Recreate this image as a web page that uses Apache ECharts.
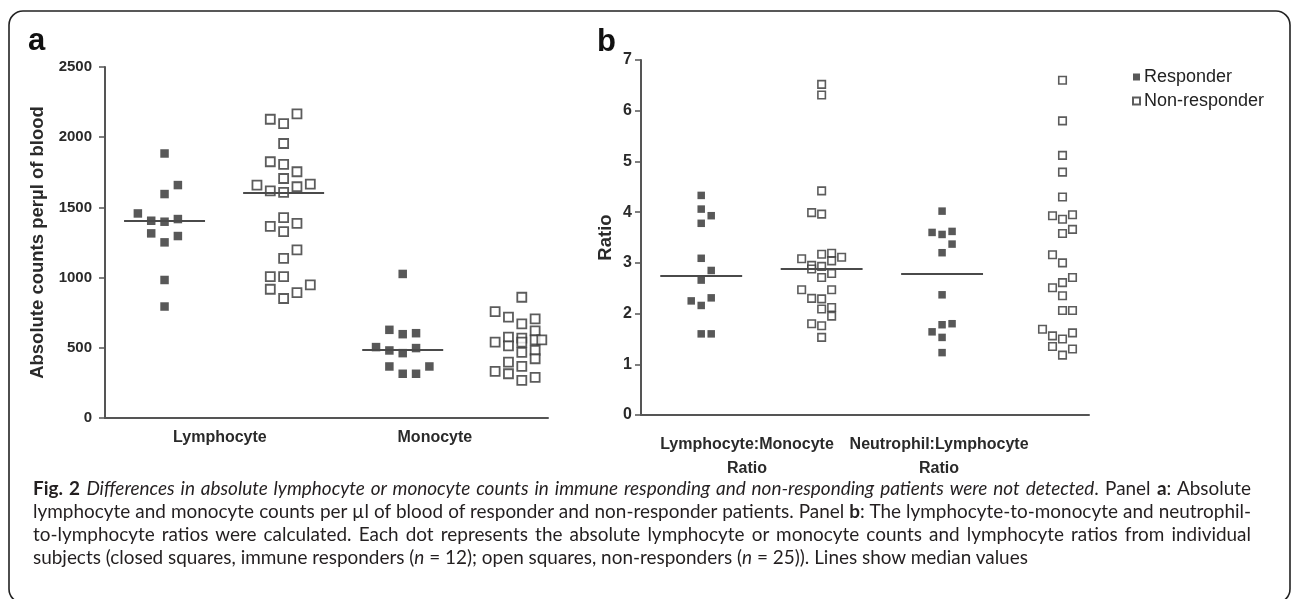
<!DOCTYPE html>
<html>
<head>
<meta charset="utf-8">
<script src="https://cdn.jsdelivr.net/npm/echarts@6/dist/echarts.min.js"></script>
<style>
html,body{margin:0;padding:0;background:#fff;}
#chart{position:absolute;left:0;top:0;width:1293px;height:599px;}
#cap{position:absolute;left:33px;top:476px;width:1218px;font-family:Lato,'Open Sans',sans-serif;font-size:18px;line-height:23px;color:#231f20;}
#cap div{white-space:nowrap;}
</style>
</head>
<body>
<div id="chart"></div>
<div id="cap">
<div class="j"><b>Fig. 2</b> <i>Differences in absolute lymphocyte or monocyte counts in immune responding and non-responding patients were not detected</i>. Panel <b>a</b>: Absolute</div>
<div class="j">lymphocyte and monocyte counts per µl of blood of responder and non-responder patients. Panel <b>b</b>: The lymphocyte-to-monocyte and neutrophil-</div>
<div class="j">to-lymphocyte ratios were calculated. Each dot represents the absolute lymphocyte or monocyte counts and lymphocyte ratios from individual</div>
<div id="last">subjects (closed squares, immune responders (<i>n</i> = 12); open squares, non-responders (<i>n</i> = 25)). Lines show median values</div>
</div>
<script>
// ---------- data ----------
const categoriesA = ['Lymphocyte', 'Monocyte'];
const categoriesB = ['Lymphocyte:Monocyte\nRatio', 'Neutrophil:Lymphocyte\nRatio'];
const seriesNames = ['Responder', 'Non-responder'];
const yTicksA = [0, 500, 1000, 1500, 2000, 2500];
const yTicksB = [0, 1, 2, 3, 4, 5, 6, 7];

// Panel a: absolute counts per µl
const lymResp = [1884, 1659, 1595, 1457, 1405, 1398, 1417, 1315, 1296, 1251, 983, 794];
const lymRespCol = [0, 1, 0, -2, -1, 0, 1, -1, 1, 0, 0, 0];
const lymNon = [2128, 2097, 2166, 1955, 1825, 1806, 1754, 1706, 1659, 1618, 1607, 1647, 1666, 1427, 1365, 1386, 1327, 1197, 1137, 1007, 1007, 917, 893, 948, 851];
const lymNonCol = [-1, 0, 1, 0, -1, 0, 1, 0, -2, -1, 0, 1, 2, 0, -1, 1, 0, 1, 0, -1, 0, -1, 1, 2, 0];
const monoResp = [1026, 628, 597, 604, 505, 481, 462, 498, 367, 315, 315, 367];
const monoRespCol = [0, -1, 0, 1, -2, -1, 0, 1, -1, 0, 1, 2];
const monoNon = [860, 758, 718, 706, 718, 671, 621, 576, 569, 557, 557, 540, 514, 526, 467, 481, 422, 398, 367, 332, 315, 327, 289, 268, 540];
const monoNonCol = [0, -2, -1, 1, 2, 0, 1, -1, 0, 1, 1.5, -2, -1, 2, 0, 1, 1, -1, 0, -2, -1, 2, 1, 0, 0];

// Panel b: ratios
const lmrResp = [4.33, 4.06, 3.93, 3.78, 3.09, 2.85, 2.66, 2.25, 2.31, 2.16, 1.60, 1.60];
const lmrRespCol = [0, 0, 1, 0, 0, 1, 0, -1, 1, 0, 0, 1];
const lmrNon = [6.52, 6.31, 4.42, 3.99, 3.96, 3.08, 3.17, 3.19, 3.04, 3.11, 2.95, 2.93, 2.88, 2.79, 2.71, 2.47, 2.47, 2.30, 2.29, 2.09, 2.12, 1.95, 1.80, 1.76, 1.53];
const lmrNonCol = [0, 0, 0, -1, 0, -2, 0, 1, 1, 2, -1, 0, -1, 1, 0, -2, 1, -1, 0, 0, 1, 1, -1, 0, 0];
const nlrResp = [4.02, 3.60, 3.56, 3.62, 3.37, 3.20, 2.37, 1.78, 1.80, 1.64, 1.53, 1.23];
const nlrRespCol = [0, -1, 0, 1, 1, 0, 0, 0, 1, -1, 0, 0];
const nlrNon = [6.60, 5.80, 5.12, 4.79, 4.30, 3.93, 3.86, 3.95, 3.58, 3.66, 3.16, 3.00, 2.71, 2.61, 2.51, 2.35, 2.06, 2.06, 1.69, 1.56, 1.50, 1.62, 1.35, 1.18, 1.30];
const nlrNonCol = [0, 0, 0, 0, 0, -1, 0, 1, 0, 1, -1, 0, 1, 0, -1, 0, 0, 1, -2, -1, 0, 1, -1, 0, 1];

// ---------- layout constants ----------
const XMIN = 0.5, XMAX = 4.22;
const colWA = 0.112, colWB = 0.083, halfMed = 0.34;
const labelPosA = [1.465, 3.27];
const labelPosB = [1.38, 2.975];

function median(a){const s=[...a].sort((x,y)=>x-y);const n=s.length;return n%2?s[(n-1)/2]:(s[n/2-1]+s[n/2])/2;}
function pts(vals, cols, center, w){return vals.map((v,i)=>[center+cols[i]*w, v]);}
const fillStyle = {color:'#2e2e2e'};
function ser(name, grid, vals, cols, center, w, filled, size){
  const m = median(vals);
  return {
    type:'scatter', name:name, xAxisIndex:grid, yAxisIndex:grid,
    symbol:'rect', symbolSize:size,
    itemStyle: filled ? fillStyle : {color:'#ffffff', borderColor:'#333', borderWidth: grid===0?1.8:1.6},
    data: pts(vals, cols, center, w),
    z: 3,
    markLine:{silent:true, symbol:'none', label:{show:false}, animation:false,
      lineStyle:{color:'#4a4a4a', width:2, type:'solid'},
      data:[[{coord:[center-halfMed, m]},{coord:[center+halfMed, m]}]]}
  };
}

const axisLineStyle = {color:'#555', width:2};
const tickLbl = {fontFamily:'Liberation Sans, Arial', fontWeight:'bold', color:'#2a2a2a', formatter:v=>String(v)};

const chart = echarts.init(document.getElementById('chart'), null, {renderer:'canvas'});
const option = {
  animation:false,
  backgroundColor:'#fff',
  grid:[
    {left:105, top:67, width:443, height:351},
    {left:641, top:60, width:448, height:355}
  ],
  xAxis:[0,1].map(i=>({gridIndex:i, type:'value', min:XMIN, max:XMAX,
    axisLine:{show:true, onZero:false, lineStyle:axisLineStyle}, axisTick:{show:false}, axisLabel:{show:false}, splitLine:{show:false}})),
  yAxis:[
    {gridIndex:0, type:'value', min:yTicksA[0], max:yTicksA[yTicksA.length-1], interval:yTicksA[1]-yTicksA[0],
      axisLine:{show:true, lineStyle:axisLineStyle}, axisTick:{show:true, length:6, lineStyle:{color:'#555', width:1.5}},
      axisLabel:Object.assign({fontSize:15, margin:13}, tickLbl), splitLine:{show:false},
      name:'Absolute counts perµl of blood', nameLocation:'middle', nameGap:58,
      nameTextStyle:{fontFamily:'Liberation Sans, Arial', fontWeight:'bold', fontSize:18.5, color:'#2a2a2a'}},
    {gridIndex:1, type:'value', min:yTicksB[0], max:yTicksB[yTicksB.length-1], interval:yTicksB[1]-yTicksB[0],
      axisLine:{show:true, lineStyle:axisLineStyle}, axisTick:{show:true, length:6, lineStyle:{color:'#555', width:1.5}},
      axisLabel:Object.assign({fontSize:16, margin:9}, tickLbl), splitLine:{show:false},
      name:'Ratio', nameLocation:'middle', nameGap:26,
      nameTextStyle:{fontFamily:'Liberation Sans, Arial', fontWeight:'bold', fontSize:18.5, color:'#2a2a2a'}}
  ],
  legend:{orient:'vertical', left:1127, top:63, itemWidth:7, itemHeight:7, itemGap:6, selectedMode:false,
    icon:'rect', data:seriesNames,
    textStyle:{fontFamily:'Liberation Sans, Arial', fontSize:18, color:'#222', padding:[0,0,0,-1]}},
  series:[
    ser(seriesNames[0], 0, lymResp, lymRespCol, 1, colWA, true, 8.5),
    ser(seriesNames[1], 0, lymNon, lymNonCol, 2, colWA, false, 9),
    ser(seriesNames[0], 0, monoResp, monoRespCol, 3, colWA, true, 8.5),
    ser(seriesNames[1], 0, monoNon, monoNonCol, 4, colWA, false, 9),
    ser(seriesNames[0], 1, lmrResp, lmrRespCol, 1, colWB, true, 7.5),
    ser(seriesNames[1], 1, lmrNon, lmrNonCol, 2, colWB, false, 7.5),
    ser(seriesNames[0], 1, nlrResp, nlrRespCol, 3, colWB, true, 7.5),
    ser(seriesNames[1], 1, nlrNon, nlrNonCol, 4, colWB, false, 7.5)
  ]
};
chart.setOption(option);

// category labels, positioned through the axes
const catFont = 'bold 16px "Liberation Sans", Arial';
const gfx = [
  {type:'rect', shape:{x:9, y:11, width:1281, height:592, r:14}, style:{fill:'none', stroke:'#222', lineWidth:1.6}, silent:true},
  {type:'text', x:28, y:41, style:{text:'a', font:'bold 31px "Liberation Sans", Arial', fill:'#111', verticalAlign:'middle'}},
  {type:'text', x:597, y:42, style:{text:'b', font:'bold 31px "Liberation Sans", Arial', fill:'#111', verticalAlign:'middle'}}
];
categoriesA.forEach((c,i)=>{
  const p = chart.convertToPixel({gridIndex:0}, [labelPosA[i], 0]);
  gfx.push({type:'text', x:p[0], y:p[1]+12, style:{text:c, font:catFont, fill:'#2a2a2a', align:'center', verticalAlign:'top'}});
});
categoriesB.forEach((c,i)=>{
  const p = chart.convertToPixel({gridIndex:1}, [labelPosB[i], 0]);
  gfx.push({type:'text', x:p[0], y:p[1]+18, style:{text:c, font:catFont, fill:'#2a2a2a', align:'center', verticalAlign:'top', lineHeight:24}});
});
chart.setOption({graphic:gfx});

// caption: pick a size that fits every line, then justify the first three
function textWidth(el){const r=document.createRange(); r.selectNodeContents(el); return r.getBoundingClientRect().width;}
const cap = document.getElementById('cap');
const last = document.getElementById('last');
const justified = Array.from(document.querySelectorAll('#cap .j'));
let fs = 18 * 1059 / textWidth(last);
justified.forEach(d=>{ fs = Math.min(fs, 18 * 1214 / textWidth(d)); });
cap.style.fontSize = fs + 'px';
justified.forEach(d=>{
  const w = textWidth(d);
  const spaces = (d.textContent.match(/ /g)||[]).length;
  if (spaces) d.style.wordSpacing = ((1218 - w)/spaces) + 'px';
});
</script>
</body>
</html>
